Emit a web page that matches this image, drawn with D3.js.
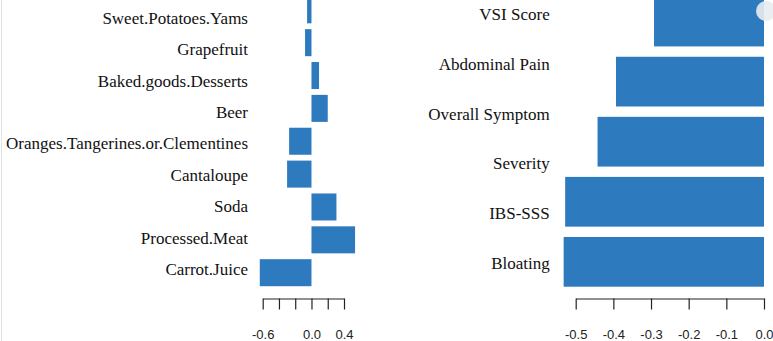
<!DOCTYPE html>
<html lang="en">
<head>
	<meta charset="utf-8">
	<title>food and symptom bars</title>
	<script src="https://d3js.org/d3.v7.min.js"></script>
	<style>
		body{ margin:0; background:#fff; }
		.tick text{ font-family:"Liberation Sans",Arial,sans-serif; font-size:13px; fill:#222; }
		.tick line, .domain{ stroke:#222; stroke-width:1.2; }
	</style>
</head>
<body>
<div id="chart"></div>

<script>
// left panel: foods
let foods=["Sweet.Potatoes.Yams","Grapefruit","Baked.goods.Desserts","Beer",
	"Oranges.Tangerines.or.Clementines","Cantaloupe","Soda","Processed.Meat","Carrot.Juice"];
let foodVals=[-0.054,-0.079,0.093,0.200,-0.275,-0.300,0.307,0.536,-0.636];
let leftTicks=[-0.6,-0.4,-0.2,0.0,0.2,0.4];
let leftTickLabels=["-0.6","","","0.0","","0.4"];

// right panel: symptoms
let symptoms=["VSI Score","Abdominal Pain","Overall Symptom Severity","IBS-SSS","Bloating"];
let symptomVals=[-0.292,-0.393,-0.442,-0.528,-0.532];
let symptomLines=["VSI Score","Abdominal Pain","Overall Symptom","Severity","IBS-SSS","Bloating"];
let rightTicks=[-0.5,-0.4,-0.3,-0.2,-0.1,0.0];
let rightTickLabels=["-0.5","-0.4","-0.3","-0.2","-0.1","0.0"];

let barColor="#2e7abf";

let svg=d3.select("#chart").append("svg")
	.attr("width",773)
	.attr("height",341);

// faint border at the left edge
svg.append("line")
	.attr("x1",1.5).attr("x2",1.5).attr("y1",0).attr("y2",341)
	.attr("stroke","#e2e2e2");

function panel(opt){
	let x=d3.scaleLinear().domain(opt.dom).range(opt.xr);
	let y=d3.scaleBand().domain(opt.cats).range(opt.yr).paddingInner(opt.pad).paddingOuter(0);
	let yl=d3.scalePoint().domain(d3.range(opt.lines.length)).range(opt.lr);

	svg.append("g").selectAll("rect")
		.data(opt.vals)
		.enter()
		.append("rect")
		.attr("fill",barColor)
		.attr("x",(d)=>x(Math.min(0,d)))
		.attr("width",(d)=>Math.abs(x(d)-x(0)))
		.attr("y",(d,i)=>y(opt.cats[i]))
		.attr("height",y.bandwidth());

	svg.append("g").selectAll("text")
		.data(opt.lines)
		.enter()
		.append("text")
		.attr("font-family","'Liberation Serif','Times New Roman',Times,serif")
		.attr("font-size","17px")
		.attr("fill","#111")
		.attr("x",opt.labX)
		.attr("y",(d,i)=>yl(i))
		.attr("dy","0.35em")
		.attr("text-anchor","end")
		.text((d)=>d);

	let axis=d3.axisBottom(x)
		.tickValues(opt.ticks)
		.tickSize(11)
		.tickSizeOuter(0)
		.tickPadding(20)
		.tickFormat((d,i)=>opt.tickLabels[i]);
	svg.append("g")
		.attr("transform","translate(0,298.5)")
		.call(axis);
}

panel({
	cats:foods, vals:foodVals, lines:foods,
	dom:[-0.6,0.4], xr:[262.7,344],
	yr:[-3.7,286.2], pad:0.178,
	lr:[18,269], labX:248,
	ticks:leftTicks, tickLabels:leftTickLabels
});

panel({
	cats:symptoms, vals:symptomVals, lines:symptomLines,
	dom:[-0.5,0.0], xr:[575.7,764],
	yr:[-3.3,286.7], pad:0.172,
	lr:[14,263], labX:549.7,
	ticks:rightTicks, tickLabels:rightTickLabels
});

// little overlay button seen in the top right corner
svg.append("circle")
	.attr("cx",766).attr("cy",11).attr("r",10)
	.attr("fill","#e9ecef").attr("opacity",0.9);
</script>
</body>
</html>
